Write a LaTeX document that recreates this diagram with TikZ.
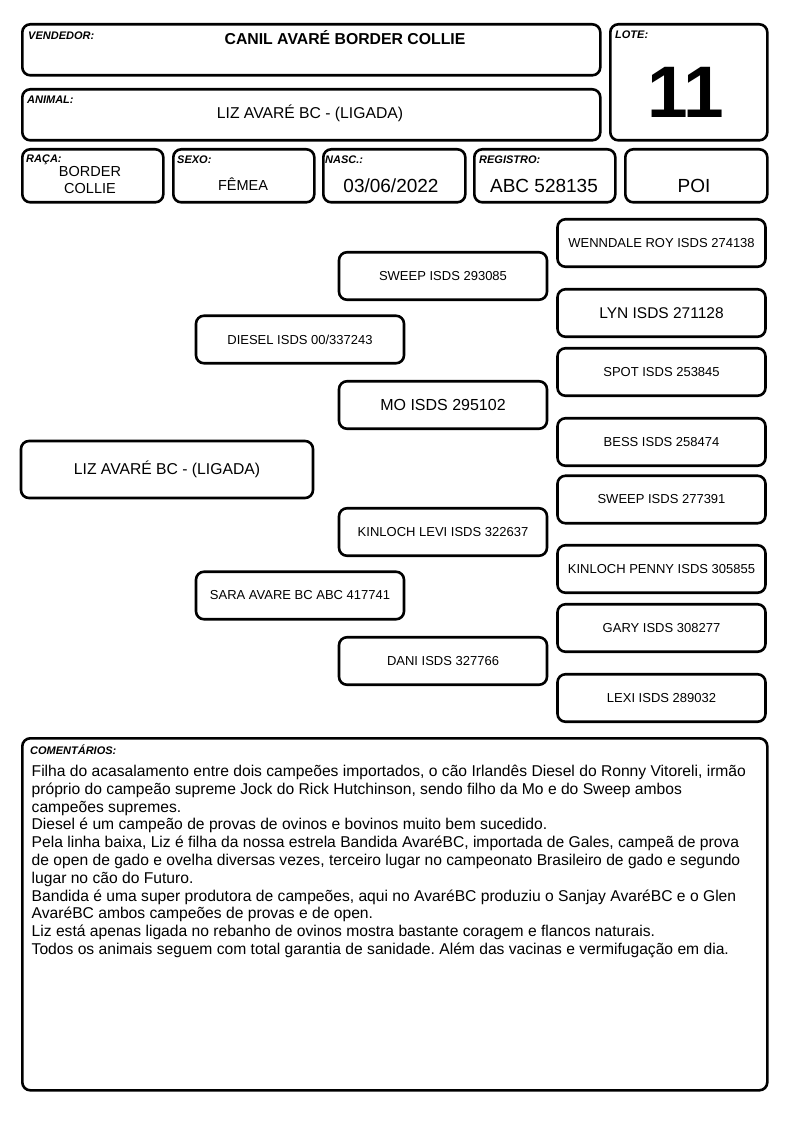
\documentclass[tikz,border=0pt]{standalone}
\usepackage{fontspec}
\setmainfont{Liberation Sans}
\frenchspacing
\begin{document}
\begin{tikzpicture}
[x=1pt,y=-1pt,
  boxdecorate/.style={draw,line width=2.6pt,rounded corners=8pt,inner sep=0pt,anchor=north west},%
  tagdecorate/.style={font=\fontsize{11}{12}\selectfont\bfseries\itshape,inner sep=0pt,anchor=north west},%
  peddecorate/.style={draw,line width=2.6pt,rounded corners=8pt,minimum width=208pt,minimum height=47.5pt,inner sep=2pt},%
  valdecorate/.style={inner sep=0pt,align=center},%
  scale=1]
\useasboundingbox (0,0) rectangle (794,1123);
%% header boxes
\foreach \nodename/\x/\y/\w/\h in {
  vend/21/23/578/51, lote/609/23/157/116, animal/21/88/578/51,
  raca/21/148/141/53, sexo/172/148/141/53, nasc/322/148/142/53,
  registro/473/148/141/53, poi/624/148/142/53,
  coment/21/737/745/352} {
  \node (\nodename) at (\x,\y) [boxdecorate,minimum width=\w pt,minimum height=\h pt] {};
}
%% small tags
\foreach \nodename/\dx/\dy/\tag in {
  vend/7/9/VENDEDOR:, lote/6/8/LOTE:, animal/6/8/ANIMAL:,
  raca/5/7/RAÇA:, sexo/5/8/SEXO:, nasc/3/8/NASC.:,
  registro/6/8/REGISTRO:, coment/9/8/COMENTÁRIOS:} {
  \node (\nodename-tag) at ([xshift=\dx pt,yshift=-\dy pt]\nodename.north west) [tagdecorate] {\tag};
}
%% header values
\node (vend-val) at (345,38) [valdecorate,font=\fontsize{15.8}{17}\selectfont\bfseries] {CANIL AVARÉ BORDER COLLIE};
\node (lote-val) at (686,92) [valdecorate,font=\fontsize{73}{80}\selectfont\bfseries] {11};
\node (animal-val) at (310,113) [valdecorate,font=\fontsize{15.7}{18}\selectfont] {LIZ AVARÉ BC - (LIGADA)};
\node (raca-val) at (90,180) [valdecorate,font=\fontsize{14.5}{17}\selectfont] {BORDER\\COLLIE};
\node (sexo-val) at (243,184) [valdecorate,font=\fontsize{14.5}{17}\selectfont] {FÊMEA};
\foreach \nodename/\x/\val in {nasc/391/{03/06/2022}, registro/544/ABC 528135, poi/694/POI} {
  \node (\nodename-val) at (\x,186) [valdecorate,font=\fontsize{19}{21}\selectfont] {\val};
}
%% pedigree
\node (liz) at (167,469.5) [peddecorate,minimum width=292pt,minimum height=57pt,font=\fontsize{15.7}{18}\selectfont] {LIZ AVARÉ BC - (LIGADA)};
\foreach \nodename/\x/\y/\fsize/\name in {
  %% parents
  diesel/300/339.5/13/{DIESEL ISDS 00/337243}, sara/300/595.5/13/SARA AVARE BC ABC 417741,
  %% grandparents
  sweepsire/443/276/13/SWEEP ISDS 293085, mo/443/405/16/MO ISDS 295102,
  levi/443/532/13/KINLOCH LEVI ISDS 322637, dani/443/661/13/DANI ISDS 327766,
  %% great-grandparents
  roy/661.5/243/13/WENNDALE ROY ISDS 274138, lyn/661.5/313/15.5/LYN ISDS 271128,
  spot/661.5/372/13/SPOT ISDS 253845, bess/661.5/442/13/BESS ISDS 258474,
  sweepdam/661.5/499.5/13/SWEEP ISDS 277391, penny/661.5/569/13/KINLOCH PENNY ISDS 305855,
  gary/661.5/628/13/GARY ISDS 308277, lexi/661.5/698/13/LEXI ISDS 289032} {
  \node (\nodename) at (\x,\y) [peddecorate,font=\fontsize{\fsize}{\fsize}\selectfont] {\name};
}
%% comments
\node (coment-val) at (31.5,765) [inner sep=0pt,anchor=north west,align=left,font=\fontsize{15.64}{17.8}\selectfont]
{Filha do acasalamento entre dois campeões importados, o cão Irlandês Diesel do Ronny Vitoreli, irmão\\
próprio do campeão supreme Jock do Rick Hutchinson, sendo filho da Mo e do Sweep ambos\\
campeões supremes.\\
Diesel é um campeão de provas de ovinos e bovinos muito bem sucedido.\\
Pela linha baixa, Liz é filha da nossa estrela Bandida AvaréBC, importada de Gales, campeã de prova\\
de open de gado e ovelha diversas vezes, terceiro lugar no campeonato Brasileiro de gado e segundo\\
lugar no cão do Futuro.\\
Bandida é uma super produtora de campeões, aqui no AvaréBC produziu o Sanjay AvaréBC e o Glen\\
AvaréBC ambos campeões de provas e de open.\\
Liz está apenas ligada no rebanho de ovinos mostra bastante coragem e flancos naturais.\\
Todos os animais seguem com total garantia de sanidade. Além das vacinas e vermifugação em dia.};
\end{tikzpicture}
\end{document}
